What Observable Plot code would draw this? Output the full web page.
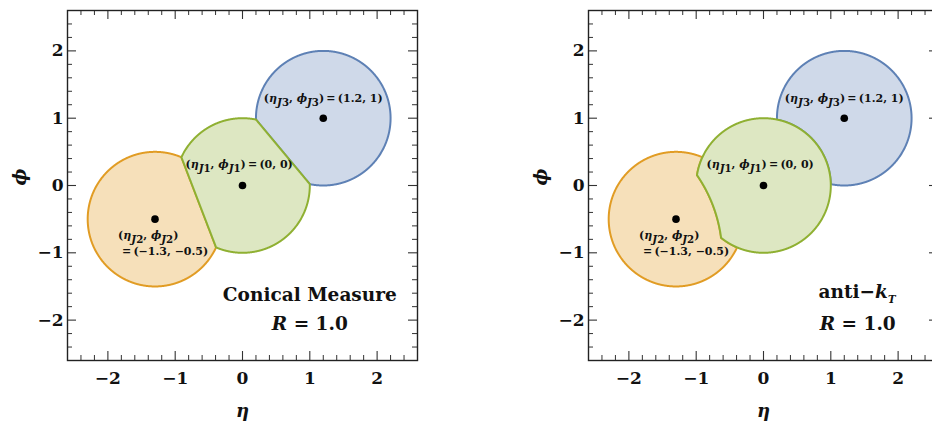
<!DOCTYPE html>
<html><head><meta charset="utf-8">
<script src="https://cdn.jsdelivr.net/npm/d3@7"></script>
<script src="https://cdn.jsdelivr.net/npm/@observablehq/plot@0.6"></script>
<style>
html,body{margin:0;padding:0;background:#fff;}
#c{position:relative;width:932px;height:423px;overflow:hidden;}
.panel{position:absolute;top:0;}
</style></head><body><div id="c"></div>
<script>
// ---- data ----
const jetIds = ["J1", "J2", "J3"];
const jetEta = [0, -1.3, 1.2];
const jetPhi = [0, -0.5, 1];
const jetStroke = ["#8FB032", "#E19C24", "#5E81B5"];
const jetFill = ["#dde7c2", "#f6e0ba", "#cfd9e9"];
const jetRadius = 1.0;
// relative hardness (weights) used for the region assignment in each panel
const conicalWeights = [1, 1, 1];
const antiKtWeights = [1.38, 1.0, 0.7];
const jetLabels = ["(η_{J1}, ϕ_{J1})\u2009=\u2009(0, 0)", "(η_{J2}, ϕ_{J2})", "(η_{J3}, ϕ_{J3})\u2009=\u2009(1.2, 1)"];
const jetLabel2 = "=\u2009(−1.3, −0.5)";
const labelEta = [-0.05, -1.40, 1.2];
const labelPhi = [0.31, -0.745, 1.29];
const label2Eta = -1.15, label2Phi = -0.98;
const methodNames = ["Conical Measure", "anti−k_{T}"];
const methodEta = [1.0, 1.39];
const methodPhi = [-1.63, -1.59];
const radiusText = "R = 1.0";
const radiusEta = [1.0, 1.40];
const radiusPhi = [-2.06, -2.06];
const axisDomain = [-2.6, 2.6];
const majorTicks = [-2, -1, 0, 1, 2];
const minorTicks = [-2.4, -2.2, -1.8, -1.6, -1.4, -1.2, -0.8, -0.6, -0.4, -0.2, 0.2, 0.4, 0.6, 0.8, 1.2, 1.4, 1.6, 1.8, 2.2, 2.4];

// ---- geometry: region ownership ----
function owner(x, y, w) {
  let best = -1, bs = Infinity;
  for (let j = 0; j < jetEta.length; j++) {
    const d = Math.hypot(x - jetEta[j], y - jetPhi[j]);
    if (d > jetRadius) continue;
    const s = d / w[j];
    if (s < bs) { bs = s; best = j; }
  }
  return best;
}
function outline(i, w) {
  const pts = [], N = 1440, step = 0.004;
  for (let k = 0; k <= N; k++) {
    const th = 2 * Math.PI * k / N, cx = Math.cos(th), cy = Math.sin(th);
    let t = step, exited = false;
    for (; t <= jetRadius; t += step) {
      if (owner(jetEta[i] + t * cx, jetPhi[i] + t * cy, w) !== i) { exited = true; break; }
    }
    let r = jetRadius;
    if (exited) {
      let lo = t - step, hi = t;
      for (let it = 0; it < 30; it++) {
        const m = (lo + hi) / 2;
        if (owner(jetEta[i] + m * cx, jetPhi[i] + m * cy, w) === i) lo = m; else hi = m;
      }
      r = lo;
    }
    pts.push({eta: jetEta[i] + r * cx, phi: jetPhi[i] + r * cy});
  }
  return pts;
}

const W = 350, H = 350, MT = 10, MB = 63;
const fontFam = "'DejaVu Serif', 'Liberation Serif', serif";
const fmt = d => (d < 0 ? "\u2212" + (-d) : String(d));

function makePanel(p) {
  const w = p === 0 ? conicalWeights : antiKtWeights;
  const ML = p === 0 ? 67 : 122, MR = 49;
  const order = [2, 1, 0];
  const regionMarks = order.map(i => Plot.line(outline(i, w), {
    x: "eta", y: "phi", fill: jetFill[i], stroke: jetStroke[i], strokeWidth: 2, curve: "linear"
  }));
  const tickCol = "#333";
  const jets = jetIds.map((id, i) => ({id, eta: jetEta[i], phi: jetPhi[i]}));
  const labels = jetLabels.map((t, i) => ({t, eta: labelEta[i], phi: labelPhi[i]}));
  labels.push({t: jetLabel2, eta: label2Eta, phi: label2Phi});
  const svg = Plot.plot({
    width: ML + W + MR, height: MT + H + MB,
    marginLeft: ML, marginRight: MR, marginTop: MT, marginBottom: MB,
    style: {fontFamily: fontFam, fontWeight: "bold", fontSize: "17px", color: "#111", background: "transparent"},
    x: {domain: axisDomain, ticks: majorTicks, tickFormat: fmt, tickSize: 0, tickPadding: 11, label: null},
    y: {domain: axisDomain, ticks: majorTicks, tickFormat: fmt, tickSize: 0, tickPadding: 4, label: null},
    marks: [
      ...regionMarks,
      Plot.dot(jets, {x: "eta", y: "phi", r: 3.8, fill: "black", stroke: "none"}),
      Plot.text(labels, {x: "eta", y: "phi", text: "t", fontSize: 11, fontWeight: "bold", fill: "#111"}),
      Plot.text([methodNames[p]], {x: () => methodEta[p], y: () => methodPhi[p], text: d => d, fontSize: 18.5, fontWeight: "bold", fill: "#111"}),
      Plot.text([radiusText], {x: () => radiusEta[p], y: () => radiusPhi[p], text: d => d, fontSize: 18.5, fontWeight: "bold", fill: "#111"}),
      // inward ticks on four sides
      Plot.ruleX(majorTicks, {x: d => d, insetTop: H - 9, stroke: tickCol, strokeWidth: 1.1}),
      Plot.ruleX(majorTicks, {x: d => d, insetBottom: H - 9, stroke: tickCol, strokeWidth: 1.1}),
      Plot.ruleX(minorTicks, {x: d => d, insetTop: H - 5, stroke: tickCol, strokeWidth: 1}),
      Plot.ruleX(minorTicks, {x: d => d, insetBottom: H - 5, stroke: tickCol, strokeWidth: 1}),
      Plot.ruleY(majorTicks, {y: d => d, insetRight: W - 9, stroke: tickCol, strokeWidth: 1.1}),
      Plot.ruleY(majorTicks, {y: d => d, insetLeft: W - 9, stroke: tickCol, strokeWidth: 1.1}),
      Plot.ruleY(minorTicks, {y: d => d, insetRight: W - 5, stroke: tickCol, strokeWidth: 1}),
      Plot.ruleY(minorTicks, {y: d => d, insetLeft: W - 5, stroke: tickCol, strokeWidth: 1}),
      Plot.frame({stroke: "#222", strokeWidth: 1.4}),
      Plot.text(["η"], {frameAnchor: "bottom", dy: 56, text: d => d, fontSize: 18, fontWeight: "bold", fill: "#111"}),
      Plot.text(["ϕ"], {frameAnchor: "left", dx: -47, rotate: -90, text: d => d, fontSize: 18, fontWeight: "bold", fill: "#111"})
    ]
  });
  svg.classList.add("panel");
  svg.style.left = (p === 0 ? 0 : 466) + "px";
  mathify(svg);
  return svg;
}

// convert simple markup (_{...}) to tspans, italicise math letters
function mathify(svg) {
  const italic = new Set(["η", "ϕ", "J", "k", "R", "T"]);
  svg.querySelectorAll("text").forEach(el => {
    const s = el.textContent;
    if (!(/_\{/.test(s) || /^R =/.test(s) || /^[ηϕ]$/.test(s))) return;
    const fs = parseFloat(el.getAttribute("font-size")) || 15;
    while (el.firstChild) el.removeChild(el.firstChild);
    const re = /_\{([^}]*)\}|[\s\S]/gu;
    let m, shift = 0;
    const add = (ch, sub) => {
      const ts = document.createElementNS("http://www.w3.org/2000/svg", "tspan");
      ts.textContent = ch;
      if (italic.has(ch)) ts.setAttribute("font-style", "italic");
      if (sub) ts.setAttribute("font-size", (fs * 0.68).toFixed(1));
      const want = sub ? fs * 0.28 : 0;
      if (want !== shift) { ts.setAttribute("dy", (want - shift).toFixed(2)); shift = want; }
      el.appendChild(ts);
    };
    while ((m = re.exec(s))) {
      if (m[1] !== undefined) { for (const ch of m[1]) add(ch, true); }
      else add(m[0], false);
    }
  });
}

const c = document.getElementById("c");
c.appendChild(makePanel(0));
c.appendChild(makePanel(1));
</script></body></html>
